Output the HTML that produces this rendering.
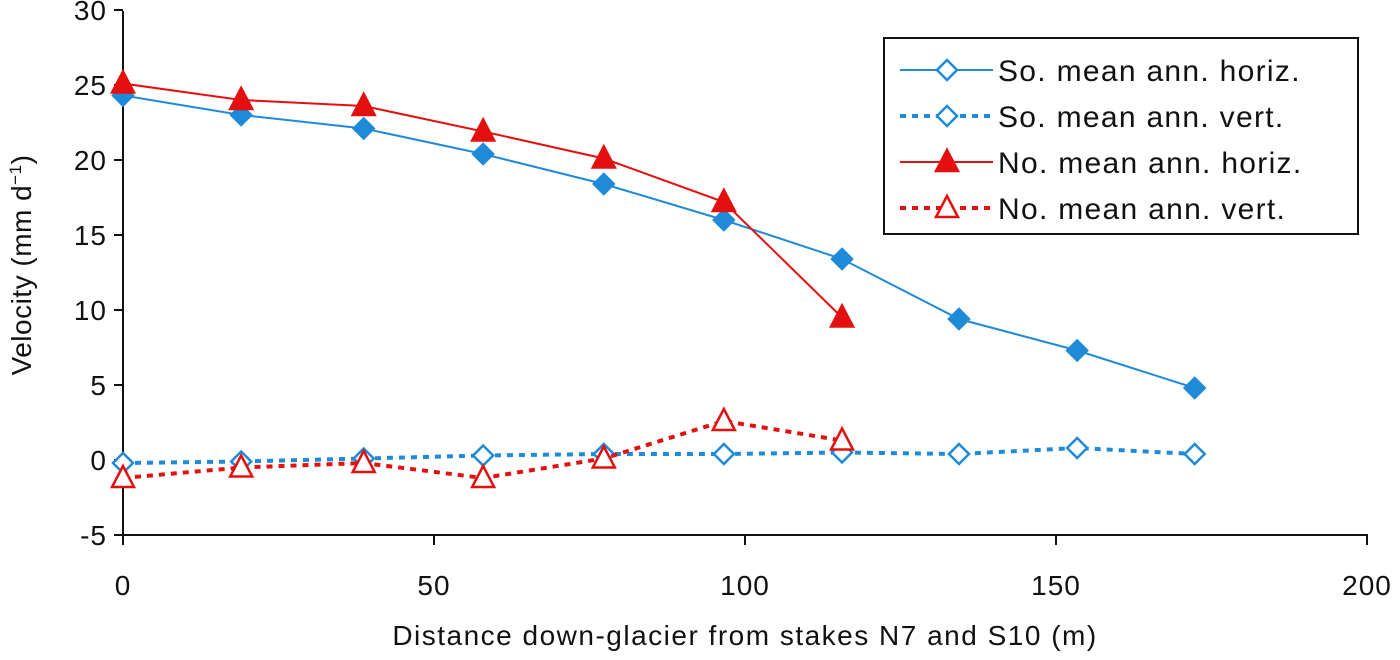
<!DOCTYPE html>
<html><head><meta charset="utf-8"><style>
body{margin:0;background:#fff;}
svg text{font-family:"Liberation Sans",sans-serif;fill:#111;}
</style></head><body>
<svg id="chart" width="1400" height="655" xmlns="http://www.w3.org/2000/svg"></svg>
<script>
const xTicks=[0,50,100,150,200];
const yTicks=[-5,0,5,10,15,20,25,30];
const soX=[0,19,38.7,57.9,77.3,96.6,115.6,134.4,153.4,172.3];
const soHoriz=[24.3,23.0,22.1,20.4,18.4,16.0,13.4,9.4,7.3,4.8];
const soVert=[-0.2,-0.1,0.1,0.3,0.4,0.4,0.5,0.4,0.8,0.4];
const noX=[0,19,38.7,57.9,77.3,96.6,115.6];
const noHoriz=[25.1,24.0,23.6,21.9,20.1,17.2,9.5];
const noVert=[-1.2,-0.5,-0.2,-1.2,0.1,2.6,1.3];
const NS="http://www.w3.org/2000/svg";
const svg=document.getElementById('chart');
const X=v=>123+v*6.22;
const Y=v=>460-v*15;
function mk(t,a,p){const e=document.createElementNS(NS,t);for(const k in a)e.setAttribute(k,a[k]);(p||svg).appendChild(e);return e;}
let ax=mk('line',{x1:123,y1:11,x2:123,y2:535,stroke:'#111','stroke-width':2});


ax=mk('line',{x1:122,y1:535,x2:1368,y2:535,stroke:'#111','stroke-width':2});


yTicks.forEach(v=>{
  mk('line',{x1:114,y1:Y(v),x2:123,y2:Y(v),stroke:'#111','stroke-width':2});
  const t=mk('text',{x:107,y:Y(v)+10,'text-anchor':'end','font-size':28,'letter-spacing':1});t.textContent=v;
  
  
});
xTicks.forEach(v=>{
  mk('line',{x1:X(v),y1:535,x2:X(v),y2:545,stroke:'#111','stroke-width':2});
  const t=mk('text',{x:X(v),y:595,'text-anchor':'middle','font-size':28,'letter-spacing':1});t.textContent=v;
  
  
});
let tt=mk('text',{x:745,y:645,'text-anchor':'middle','font-size':28,'letter-spacing':1.5});
tt.textContent='Distance down-glacier from stakes N7 and S10 (m)';


tt=mk('text',{x:0,y:0,'text-anchor':'middle','font-size':28,'letter-spacing':0.5,transform:'translate(31,265) rotate(-90)'});
tt.innerHTML='Velocity (mm d<tspan dy="-10" font-size="17">−1</tspan><tspan dy="10">)</tspan>';


const BLUE='#1f8ad8',RED='#e3100f';
function diamond(g,x,y,fill,col){mk('path',{d:`M${x} ${y-10}L${x+10} ${y}L${x} ${y+10}L${x-10} ${y}Z`,fill:fill,stroke:col,'stroke-width':2.5},g);}
function tri(g,x,y,fill,col){mk('path',{d:`M${x} ${y-12}L${x+11} ${y+9}L${x-11} ${y+9}Z`,fill:fill,stroke:col,'stroke-width':2.5},g);}
function series(name,xs,ys,col,dash,marker,fill){
  const g=mk('g',{});
  
  
  const a={points:xs.map((x,i)=>X(x)+','+Y(ys[i])).join(' '),fill:'none',stroke:col,'stroke-width':dash?4:2};
  if(dash)a['stroke-dasharray']='6,6';
  mk('polyline',a,g);
  xs.forEach((x,i)=>marker(g,X(x),Y(ys[i]),fill,col));
}
series('so-vert-series',soX,soVert,BLUE,true,diamond,'#fff');
series('no-vert-series',noX,noVert,RED,true,tri,'#fff');
series('so-horiz-series',soX,soHoriz,BLUE,false,diamond,BLUE);
series('no-horiz-series',noX,noHoriz,RED,false,tri,RED);
const lg=mk('g',{});


mk('rect',{x:884,y:38,width:474,height:196,fill:'#fff',stroke:'#111','stroke-width':2},lg);
const labels=['So. mean ann. horiz.','So. mean ann. vert.','No. mean ann. horiz.','No. mean ann. vert.'];
const cols=[BLUE,BLUE,RED,RED],dashes=[false,true,false,true],mks=[diamond,diamond,tri,tri],fills=['#fff','#fff',RED,'#fff'];
labels.forEach((l,i)=>{
  const y=70+i*46;
  const e=mk('g',{},lg);
  
  
  const a={x1:900,y1:y,x2:993,y2:y,stroke:cols[i],'stroke-width':dashes[i]?4:2};
  if(dashes[i])a['stroke-dasharray']='6,6';
  mk('line',a,e);
  mks[i](e,947,y,fills[i],cols[i]);
  const t=mk('text',{x:998,y:y+11,'font-size':30,'letter-spacing':1.3},e);t.textContent=l;
});
</script>
</body></html>
